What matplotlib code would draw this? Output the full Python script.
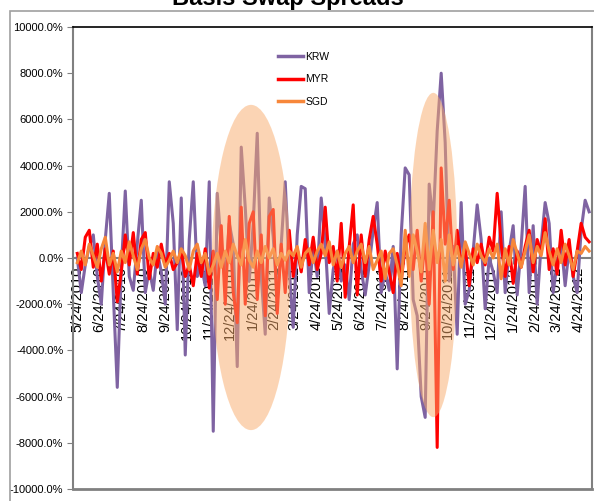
import numpy as np
import pandas as pd
import matplotlib
matplotlib.use("Agg")
import matplotlib.pyplot as plt
import matplotlib.dates as mdates
from matplotlib.patches import Ellipse, Rectangle
from matplotlib.ticker import FuncFormatter, MultipleLocator

# spread values in %, roughly every 4 business days
krw = [0, -1500, -300, 500, 1000, -800, -2000, 800, 2800, -1500,
       -5600, -500, 2900, -800, -1400, 600, 2500, -1500, -500, -1400,
       300, -600, -2000, 3300, 1500, -3100, 2600, -4200, 800, 3300,
       -800, -300, -1200, 3300, -7500, 2800, 500, -1000, 1500, 600,
       -4700, 4800, 2200, -1000, 1500, 5400, -800, -3300, 2600, 900,
       -1800, 600, 3300, -500, -3000, 1000, 3100, 3000, -1500, 500,
       -800, 2600, 700, -2400, -500, 300, -1000, -300, -1800, 600,
       1000, -500, -1600, -300, 1200, 2400, -1500, -600, -1400, 500,
       -4800, 1000, 3900, 3600, -1800, -2500, -6000, -6900, 3200, 1500,
       5500, 8000, 5000, -1000, 500, -3300, 2400, -2000, -1400, 300,
       2300, 800, -2200, 0, -600, -1500, 2000, -1500, 300, 1400,
       -1600, 500, 3100, -1500, 1400, -2000, 600, 2400, 1500, -1500,
       -200, 700, -1200, 400, -800, -1500, 1200, 2500, 2000]

myr = [200, -500, 900, 1200, -400, 600, -1000, 400, -700, 300,
       -1900, -600, 1000, -300, 1100, -700, 800, 1100, -900, 200,
       -400, 600, -300, 200, -500, -200, 300, -800, -300, -1200,
       200, -800, 400, -1300, 300, -1800, 1400, -2000, 1800, -1500,
       -2800, 2200, -2000, 1500, 2000, -1800, 1000, -2500, 1800, 2100,
       -2400, 600, -1500, 1200, -800, 400, -600, 800, -300, 900,
       -500, 200, 2200, -200, 500, -1000, 1500, -1700, 500, 2300,
       -1600, 1000, -800, 800, 1800, 600, -1000, 300, -600, -1500,
       200, -1000, 500, 1000, -500, 1200, -1000, 800, -2000, 2000,
       -8200, 3900, 600, 2500, -500, 1200, -300, 500, -1200, 400,
       -200, 600, -300, 900, 300, 2800, 600, -800, 500, -1100,
       300, -400, 500, 1200, -600, 800, 200, 1700, -500, 400,
       -700, 1200, -300, 800, -800, 300, 1500, 900, 700]

sgd = [-200, 300, -300, 600, 100, -400, 400, 900, -300, 200,
       -600, 300, -200, 700, 100, -500, 400, 800, 0, -300,
       500, 200, -400, -100, 300, -200, 400, 100, -500, 300,
       600, -200, 200, -700, -300, 200, -400, 300, -200, 600,
       100, -300, 800, -100, -400, 300, -200, 500, 0, 400,
       -300, 200, -100, 300, 100, 500, -400, 200, 400, -200,
       300, 600, 100, 700, -300, 300, -400, 200, 500, -200,
       300, 600, -200, 500, -500, -100, 300, -900, 200, 400,
       -300, -1200, 1200, -800, 1000, 300, -600, 1500, -500, 1200,
       -200, 800, -1000, 1000, -300, 500, -400, 700, 200, -300,
       600, 100, -200, 400, 0, 600, -900, 400, -300, 800,
       200, -400, 300, 1000, -200, 500, 100, 1100, 300, -300,
       400, -200, 600, 100, -500, 300, 200, 500, 300]

series_names = ["KRW", "MYR", "SGD"]
series_colors = ["#7F63A2", "#FF0000", "#F7873A"]

# highlighted periods (center date, width in days, center %, height %)
ell_centers = ["2011-01-22", "2011-10-04"]
ell_widths = [110, 67]
ell_y = [-410, 130]
ell_heights = [14080, 14040]

dates = pd.date_range("2010-05-24", "2012-05-09", periods=len(krw))

plt.rcParams['font.family'] = ['Liberation Sans', 'DejaVu Sans']

fig = plt.figure(figsize=(5.94, 5.01), dpi=100)
ax = fig.add_axes([73 / 594, 12 / 501, 519 / 594, 462 / 501])

for vals, name, col in zip([krw, myr, sgd], series_names, series_colors):
    ax.plot(dates, vals, color=col, lw=2.2, label=name, zorder=2,
            solid_joinstyle="round")

for c, w, yc, h in zip(ell_centers, ell_widths, ell_y, ell_heights):
    e = Ellipse((mdates.date2num(pd.Timestamp(c)), yc), w, h,
                facecolor="#F9AB6B", edgecolor="none", alpha=0.5, zorder=3)
    ax.add_patch(e)

ax.set_xlim(pd.Timestamp("2010-05-18"), pd.Timestamp("2012-05-13"))
ax.set_ylim(-10000, 10000)

ax.yaxis.set_major_locator(MultipleLocator(2000))
ax.yaxis.set_major_formatter(FuncFormatter(lambda v, p: f"{v:.1f}%"))
ax.tick_params(axis="y", labelsize=8, length=4, color="#808080", pad=3)

ax.xaxis.set_major_locator(mdates.MonthLocator(bymonthday=24))
ax.xaxis.set_major_formatter(
    FuncFormatter(lambda v, p: "{d.month}/{d.day}/{d.year}".format(d=mdates.num2date(v))))
ax.tick_params(axis="x", labelsize=10.5, length=4, color="#808080", pad=2,
               labelrotation=90)
for lab in ax.get_xticklabels():
    lab.set_zorder(5)

ax.spines["bottom"].set_position(("data", 0))
ax.spines["bottom"].set_color("#808080")
ax.spines["bottom"].set_linewidth(1.5)
ax.spines["bottom"].set_zorder(1)
ax.spines["left"].set_color("#808080")
ax.spines["left"].set_linewidth(1.5)
ax.spines["right"].set_color("#808080")
ax.spines["right"].set_linewidth(1.5)
ax.spines["top"].set_color("black")
ax.spines["top"].set_linewidth(1.2)
ax.axhline(-10000, color="#808080", lw=2, clip_on=False, zorder=1)

leg = ax.legend(loc="upper left", bbox_to_anchor=(0.395, 0.946), frameon=False,
                fontsize=7.5, handlelength=2.4, handletextpad=0.2,
                labelspacing=1.2, borderpad=0, borderaxespad=0)
for ln in leg.get_lines():
    ln.set_linewidth(2.5)

# title is cropped by the top edge, as in the original export
fig.text(288 / 594, (501 - 5) / 501, "Basis Swap Spreads", ha="center",
         va="baseline", fontsize=17, fontweight="bold")

fig.patches.append(Rectangle((10 / 594, -0.1), 1.0, (501 - 11) / 501 + 0.1,
                             transform=fig.transFigure, fill=False,
                             edgecolor="#A0A0A0", lw=1.2))

fig.savefig("out.png", dpi=100)
